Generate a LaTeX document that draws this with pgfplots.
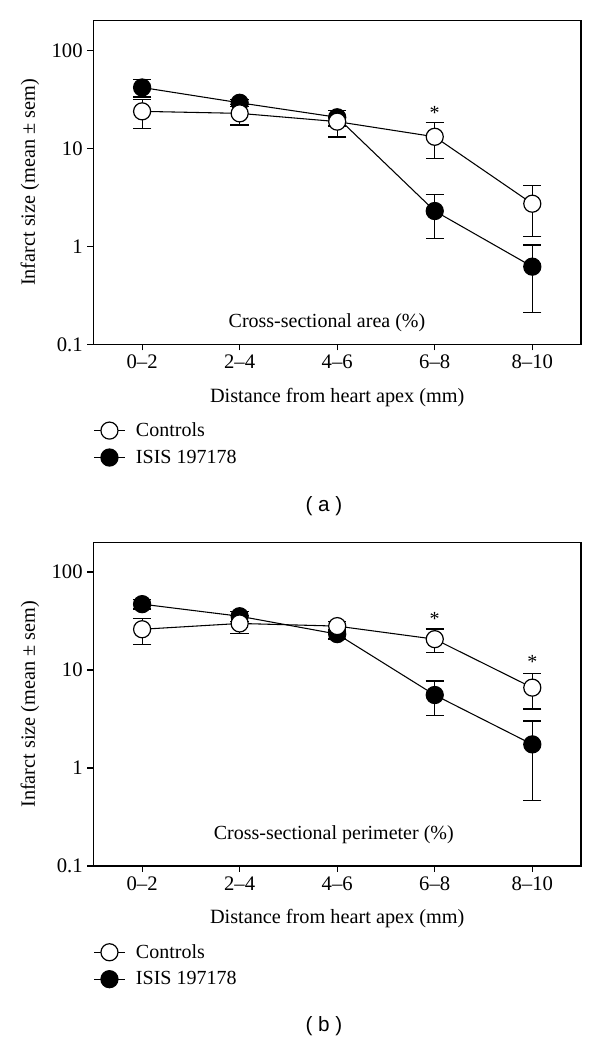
\documentclass[border=0pt]{standalone}
\usepackage{fontspec}
\setmainfont{Liberation Serif}
\newfontfamily\labelsans{Liberation Sans}
\usepackage{pgfplots}
\pgfplotsset{compat=1.18}
\begin{document}
\begin{tikzpicture}
\path[use as bounding box] (0,0) rectangle (450pt,782.25pt);
% Panel (a)
\begin{axis}[at={(70pt,524.0pt)}, anchor=south west,
    scale only axis, width=365.8pt, height=242.7pt,
    xmin=-0.5, xmax=4.5, ymode=log, ymin=0.1, ymax=200,
    xtick={0,1,2,3,4}, xticklabels={0–2,2–4,4–6,6–8,8–10},
    ytick={0.1,1,10,100}, yticklabels={0.1,1,10,100},
    yminorticks=false,
    tick pos=left, tick align=outside, major tick length=4.5pt,
    axis line style={line width=0.9pt},
    major tick style={line width=0.9pt, black},
    tick label style={font=\fontsize{15.5}{17}\selectfont},
    xlabel={Distance from heart apex (mm)},
    ylabel={Infarct size (mean ± sem)},
    label style={font=\fontsize{15.2}{17}\selectfont},
    xlabel style={at={(axis description cs:0.5,-0.163)}, anchor=center},
    ylabel style={at={(axis description cs:-0.130,0.5)}, anchor=center},
    legend cell align=left, reverse legend,
    legend style={at={(0,-0.233)}, anchor=north west, draw=none, fill=none,
      inner sep=0pt, font=\fontsize{15}{17}\selectfont, row sep=4.5pt,
      /tikz/every odd column/.append style={column sep=6pt}},
    legend image code/.code={\draw[mark repeat=2,mark phase=2,#1] plot coordinates {(0pt,0pt) (11.5pt,0pt) (23pt,0pt)};}]
\addplot[black, line width=0.8pt, mark=*, mark size=6.4pt,
    mark options={fill=black, line width=0.9pt},
    error bars/.cd, y dir=both, y explicit,
    error mark options={rotate=90, mark size=6.9pt, line width=0.9pt, black},
    error bar style={line width=0.9pt, black}] coordinates {
  (0,41.7) +- (0,8.3)
  (1,29.1) +- (0,2.5)
  (2,20.7) +- (0,3.8)
  (3,2.29) +- (0,1.1)
  (4,0.62) +- (0,0.41)
};
\addlegendentry{ISIS 197178}
\addplot[black, line width=0.8pt, mark=*, mark size=6.4pt,
    mark options={fill=white, line width=0.9pt},
    error bars/.cd, y dir=both, y explicit,
    error mark options={rotate=90, mark size=6.9pt, line width=0.9pt, black},
    error bar style={line width=0.9pt, black}] coordinates {
  (0,23.8) +- (0,7.9)
  (1,22.7) +- (0,5.4)
  (2,18.7) +- (0,5.7)
  (3,13.1) +- (0,5.3)
  (4,2.72) +- (0,1.46)
};
\addlegendentry{Controls}
\node[font=\fontsize{15}{17}\selectfont] at (axis cs:3,23) {*};
\node[font=\fontsize{15}{17}\selectfont] at (rel axis cs:0.479,0.066) {Cross-sectional area (\%)};
\end{axis}
% Panel (b)
\begin{axis}[at={(70pt,132.75pt)}, anchor=south west,
    scale only axis, width=365.8pt, height=242.7pt,
    xmin=-0.5, xmax=4.5, ymode=log, ymin=0.1, ymax=200,
    xtick={0,1,2,3,4}, xticklabels={0–2,2–4,4–6,6–8,8–10},
    ytick={0.1,1,10,100}, yticklabels={0.1,1,10,100},
    yminorticks=false,
    tick pos=left, tick align=outside, major tick length=4.5pt,
    axis line style={line width=0.9pt},
    major tick style={line width=0.9pt, black},
    tick label style={font=\fontsize{15.5}{17}\selectfont},
    xlabel={Distance from heart apex (mm)},
    ylabel={Infarct size (mean ± sem)},
    label style={font=\fontsize{15.2}{17}\selectfont},
    xlabel style={at={(axis description cs:0.5,-0.163)}, anchor=center},
    ylabel style={at={(axis description cs:-0.130,0.5)}, anchor=center},
    legend cell align=left, reverse legend,
    legend style={at={(0,-0.233)}, anchor=north west, draw=none, fill=none,
      inner sep=0pt, font=\fontsize{15}{17}\selectfont, row sep=4.5pt,
      /tikz/every odd column/.append style={column sep=6pt}},
    legend image code/.code={\draw[mark repeat=2,mark phase=2,#1] plot coordinates {(0pt,0pt) (11.5pt,0pt) (23pt,0pt)};}]
\addplot[black, line width=0.8pt, mark=*, mark size=6.4pt,
    mark options={fill=black, line width=0.9pt},
    error bars/.cd, y dir=both, y explicit,
    error mark options={rotate=90, mark size=6.9pt, line width=0.9pt, black},
    error bar style={line width=0.9pt, black}] coordinates {
  (0,46.9) +- (0,5)
  (1,35.3) +- (0,4)
  (2,23.2) +- (0,2.5)
  (3,5.55) +- (0,2.15)
  (4,1.74) +- (0,1.27)
};
\addlegendentry{ISIS 197178}
\addplot[black, line width=0.8pt, mark=*, mark size=6.4pt,
    mark options={fill=white, line width=0.9pt},
    error bars/.cd, y dir=both, y explicit,
    error mark options={rotate=90, mark size=6.9pt, line width=0.9pt, black},
    error bar style={line width=0.9pt, black}] coordinates {
  (0,26.0) +- (0,7.7)
  (1,29.8) +- (0,6.1)
  (2,28.0) +- (0,3)
  (3,20.6) +- (0,5.5)
  (4,6.6) +- (0,2.6)
};
\addlegendentry{Controls}
\node[font=\fontsize{15}{17}\selectfont] at (axis cs:3,33.5) {*};
\node[font=\fontsize{15}{17}\selectfont] at (axis cs:4,12.1) {*};
\node[font=\fontsize{15}{17}\selectfont] at (rel axis cs:0.493,0.098) {Cross-sectional perimeter (\%)};
\end{axis}
\node[font=\labelsans\fontsize{15.5}{17}\selectfont] at (243pt,402.5pt) {( a )};
\node[font=\labelsans\fontsize{15.5}{17}\selectfont] at (243pt,12.5pt) {( b )};
\end{tikzpicture}
\end{document}
